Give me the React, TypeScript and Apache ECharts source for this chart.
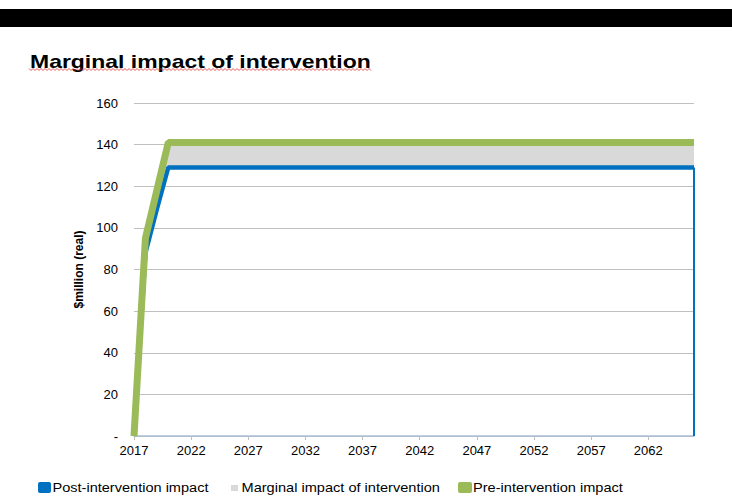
import React, { useEffect, useRef } from "react";
import * as echarts from "echarts";

const years: string[] = [];
for (let y = 2017; y <= 2066; y++) years.push(String(y));

// Post-intervention impact ($million real)
const postHead = [0, 88, 109, 129];
// Pre-intervention impact
const preHead = [0, 95, 118, 141];
const postPlateau = 129;
const prePlateau = 141;

const postValues: number[] = years.map((_, i) => (i < postHead.length ? postHead[i] : postPlateau));
const preValues: number[] = years.map((_, i) => (i < preHead.length ? preHead[i] : prePlateau));
const marginalValues: number[] = preValues.map((v, i) => v - postValues[i]);

const seriesNames = [
  "Post-intervention impact",
  "Marginal impact of intervention",
  "Pre-intervention impact",
];

const BLUE = "#0070c0";
const GREEN = "#9bbb59";
const GREY = "#d9d9d9";
const FONT = "'Liberation Sans', Arial, sans-serif";

export default function App() {
  const ref = useRef<HTMLDivElement>(null);
  useEffect(() => {
    if (!ref.current) return;
    const chart = echarts.init(ref.current, null, { renderer: "svg" });
    const squiggle: number[][] = [];
    for (let x = 29, k = 0; x <= 371; x += 2, k++) squiggle.push([x, k % 2 === 0 ? 68.5 : 70.5]);

    const legendItems = [
      { name: seriesNames[0], color: BLUE, icon: [38, 482, 13, 11], r: 2, tx: 52.5, w: 156 },
      { name: seriesNames[1], color: GREY, icon: [231, 485, 7, 6], r: 0, tx: 241.5, w: 198.5 },
      { name: seriesNames[2], color: GREEN, icon: [458, 482, 14, 11], r: 2, tx: 473, w: 150 },
    ];
    const measure = (s: string) => {
      const c = document.createElement("canvas").getContext("2d")!;
      c.font = "12px " + FONT;
      return c.measureText(s).width;
    };
    const titleText = "Marginal impact of intervention";
    const tctx = document.createElement("canvas").getContext("2d")!;
    tctx.font = "bold 18px " + FONT;
    const titleW = tctx.measureText(titleText).width;

    const legendGraphics: any[] = [];
    legendItems.forEach((it) => {
      legendGraphics.push({
        type: "rect",
        shape: { x: it.icon[0], y: it.icon[1], width: it.icon[2], height: it.icon[3], r: it.r },
        style: { fill: it.color },
      });
      legendGraphics.push({
        type: "text",
        x: it.tx,
        y: 488,
        scaleX: it.w / measure(it.name),
        style: {
          text: it.name,
          x: 0,
          y: 0,
          font: "12px " + FONT,
          fill: "#000",
          verticalAlign: "middle",
          align: "left",
        },
      });
    });

    chart.setOption({
      animation: false,
      backgroundColor: "#ffffff",
      textStyle: { fontFamily: FONT },
      graphic: [
        { type: "rect", shape: { x: 0, y: 9, width: 732, height: 18 }, style: { fill: "#000" } },
        {
          type: "text",
          x: 30,
          y: 61,
          scaleX: 341 / titleW,
          style: {
            text: titleText,
            x: 0,
            y: 0,
            font: "bold 18px " + FONT,
            fill: "#000",
            verticalAlign: "middle",
            align: "left",
          },
        },
        {
          type: "polyline",
          shape: { points: squiggle },
          style: { stroke: "#e03030", lineWidth: 0.8, fill: "none" },
        },
        ...legendGraphics,
      ],
      grid: { left: 134, right: 38, top: 103, bottom: 64, containLabel: false },
      legend: { show: false, data: seriesNames },
      xAxis: {
        type: "category",
        data: years,
        boundaryGap: false,
        axisLine: { lineStyle: { color: "#a9bfd6", width: 1.5 } },
        axisTick: { interval: 4, length: 4, lineStyle: { color: "#bfbfbf" } },
        axisLabel: { interval: 4, fontSize: 13, color: "#000", margin: 8 },
        splitLine: { show: false },
      },
      yAxis: {
        type: "value",
        min: 0,
        max: 160,
        interval: 20,
        name: "$million (real)",
        nameLocation: "middle",
        nameGap: 40,
        nameTextStyle: { fontWeight: "bold", fontSize: 12, color: "#000" },
        axisLine: { show: false },
        axisTick: { show: false },
        axisLabel: {
          fontSize: 13,
          color: "#000",
          margin: 16,
          formatter: (v: number) => (v === 0 ? "-" : String(v)),
        },
        splitLine: { lineStyle: { color: "#c0c0c0", width: 1 } },
      },
      series: [
        {
          name: seriesNames[0],
          type: "line",
          stack: "impact",
          data: postValues,
          symbol: "none",
          color: BLUE,
          lineStyle: { color: BLUE, width: 4.5 },
          areaStyle: { color: "#ffffff", opacity: 0 },
          z: 3,
          markLine: {
            silent: true,
            symbol: "none",
            label: { show: false },
            lineStyle: { color: BLUE, width: 2, type: "solid" },
            data: [
              [
                { coord: [years[years.length - 1], 0] },
                { coord: [years[years.length - 1], postValues[postValues.length - 1]] },
              ],
            ],
          },
        },
        {
          name: seriesNames[1],
          type: "line",
          stack: "impact",
          data: marginalValues,
          symbol: "none",
          color: GREY,
          lineStyle: { width: 0 },
          areaStyle: { color: GREY, opacity: 1 },
          z: 2,
        },
        {
          name: seriesNames[2],
          type: "line",
          data: preValues,
          symbol: "none",
          color: GREEN,
          lineStyle: { color: GREEN, width: 7 },
          z: 4,
        },
      ],
    });
    return () => chart.dispose();
  }, []);
  return (
    <div
      ref={ref}
      style={{ position: "fixed", left: 0, top: 0, width: 732, height: 500 }}
    />
  );
}
